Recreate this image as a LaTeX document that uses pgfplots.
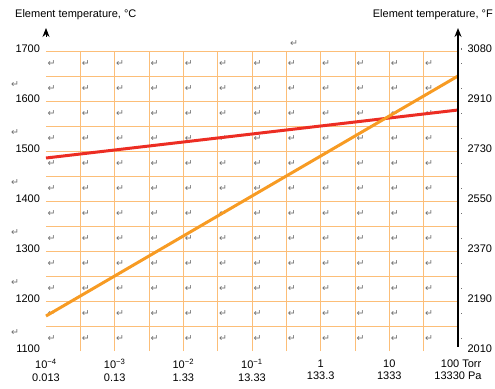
\documentclass[border=0pt]{standalone}
\usepackage{fontspec}
\setmainfont{Liberation Sans}
\newfontfamily\symfont{DejaVu Sans}
\usepackage{pgfplots}
\pgfplotsset{compat=1.18}
\usetikzlibrary{arrows.meta}
\definecolor{gridor}{RGB}{252,190,120}
\definecolor{lineor}{RGB}{247,155,35}
\definecolor{linered}{RGB}{236,45,35}
\definecolor{pmark}{RGB}{110,110,110}

\begin{document}
\begin{tikzpicture}
\useasboundingbox (-46bp,-38bp) rectangle (449bp,351bp);
% paragraph marks (decoration)
\foreach \i in {0,...,11} {
  \foreach \j in {0,...,11} {
    \node[text=pmark, font=\symfont\fontsize{9.5bp}{9.5bp}\selectfont, inner sep=0pt]
      at ({(\i*34.333+5.5)*1bp},{(300-25*\j-12.5)*1bp}) {↵};
  }
}
\foreach \y in {266,218,168,118,68,18} {
  \node[text=pmark, font=\symfont\fontsize{9.5bp}{9.5bp}\selectfont, inner sep=0pt]
    at (-31bp,{\y*1bp}) {↵};
}
\node[text=pmark, font=\symfont\fontsize{9.5bp}{9.5bp}\selectfont, inner sep=0pt] at (248bp,307bp) {↵};

\begin{axis}[
  at={(0,0)}, anchor=south west,
  scale only axis, width=412bp, height=300bp,
  xmin=-4, xmax=2, ymin=1100, ymax=1700,
  axis line style={draw=none},
  major tick length=0pt, minor tick length=0pt,
  xtick={-4,-3,-2,-1,0,1,2},
  xticklabels={
    {10\textsuperscript{−4}\\0.013},
    {10\textsuperscript{−3}\\0.13},
    {10\textsuperscript{−2}\\1.33},
    {10\textsuperscript{−1}\\13.33},
    {1\\133.3},
    {10\\1333},
    {\hphantom{1}100 Torr\\13330 Pa}},
  ytick={1100,1200,1300,1400,1500,1600,1700},
  yticklabels={1100,1200,1300,1400,1500,1600,1700},
  minor xtick={-3.5,-3,-2.5,-2,-1.5,-1,-0.5,0,0.5,1,1.5},
  minor ytick={1150,1200,1250,1300,1350,1400,1450,1500,1550,1600,1650,1700},
  xminorgrids=true, yminorgrids=true,
  minor grid style={gridor, line width=1bp},
  tick label style={font=\fontsize{11bp}{12.5bp}\selectfont},
  xticklabel style={align=center, yshift=-5bp},
  yticklabel style={xshift=-2.5bp, yshift=2.5bp},
  clip=false,
]
\addplot[linered, line width=3bp] coordinates {(-4,1486) (2,1582)};
\addplot[lineor, line width=3bp] coordinates {(-4,1170) (2,1650)};
\end{axis}

\begin{axis}[
  at={(0,0)}, anchor=south west,
  scale only axis, width=412bp, height=300bp,
  xmin=-4, xmax=2, ymin=1100, ymax=1700,
  hide x axis, axis y line*=right,
  y axis line style={draw=none},
  major tick length=0pt,
  ytick={1100,1200,1300,1400,1500,1600,1700},
  yticklabels={2010,2190,2370,2550,2730,2910,3080},
  yticklabel style={font=\fontsize{11bp}{12.5bp}\selectfont, xshift=6bp, yshift=2.5bp},
]
\end{axis}

% axis arrows
\draw[line width=1.6bp, -{Stealth[length=9bp,width=7bp]}] (412bp,4bp) -- (412bp,323bp);
\draw[line width=0.8bp, -{Stealth[length=9bp,width=7bp]}] (0bp,314bp) -- (0bp,323bp);
\foreach \y in {302,287.5,262.5,237.5,212.5,187.5,162.5,137.5,112.5,87.5,62.5,37.5,12.5} {
  \fill[pmark] (414.5bp,{(\y-0.8)*1bp}) rectangle (415.7bp,{(\y+0.8)*1bp});
}

% titles
\node[anchor=west, inner sep=0pt, font=\fontsize{11bp}{13bp}\selectfont] at (-31bp,336bp) {Element temperature, °C};
\node[anchor=east, inner sep=0pt, font=\fontsize{11bp}{13bp}\selectfont] at (447bp,336bp) {Element temperature, °F};
\end{tikzpicture}
\end{document}
